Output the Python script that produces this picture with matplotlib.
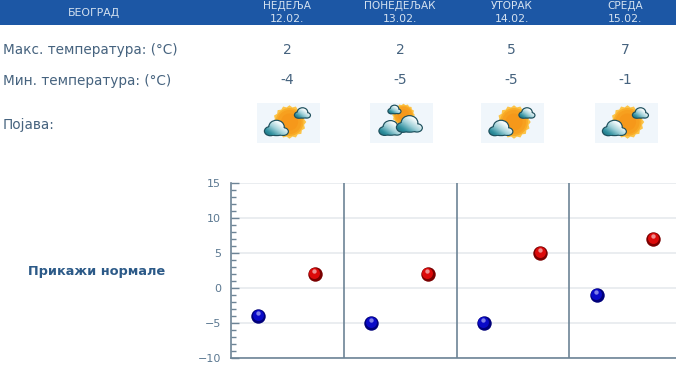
import matplotlib
matplotlib.use("Agg")
import matplotlib.pyplot as plt
from matplotlib.patches import Rectangle, Circle, Ellipse, Polygon, PathPatch
from matplotlib.path import Path
from matplotlib.transforms import offset_copy
from matplotlib.ticker import MultipleLocator
from matplotlib.colors import LinearSegmentedColormap
import numpy as np

city = "БЕОГРАД"
days = ["НЕДЕЉА", "ПОНЕДЕЉАК", "УТОРАК", "СРЕДА"]
dates = ["12.02.", "13.02.", "14.02.", "15.02."]
max_temps = [2, 2, 5, 7]
min_temps = [-4, -5, -5, -1]
row_labels = ["Макс. температура: (°C)", "Мин. температура: (°C)", "Појава:"]
icon_kinds = ["sun", "cloud", "sun", "sun"]
norm_label = "Прикажи нормале"

W, H = 676, 380
plt.rcParams["font.family"] = ["DejaVu Sans"]
fig = plt.figure(figsize=(W / 100, H / 100), dpi=100, facecolor="white")

bg = fig.add_axes([0, 0, 1, 1])
bg.axis("off")

TXT = "#46637f"
col_x = [287, 400, 511.5, 625]

bg.add_patch(Rectangle((0, 0), W, 25, fc="#1c57a5", ec="none"))
bg.text(94, 13, city, color="#d5e2f0", fontsize=7.8, ha="center", va="center")
for x, d, dt in zip(col_x, days, dates):
    bg.text(x, 6, d, color="#d5e2f0", fontsize=7.6, ha="center", va="center")
    bg.text(x, 19.5, dt, color="#d5e2f0", fontsize=7.8, ha="center", va="center")

for y, lab in zip([50.2, 81, 124.5], row_labels):
    bg.text(3, y, lab, color=TXT, fontsize=9.85, ha="left", va="center")
for x, a, b in zip(col_x, max_temps, min_temps):
    bg.text(x, 49.5, str(a), color=TXT, fontsize=10, ha="center", va="center")
    bg.text(x, 80.5, str(b), color=TXT, fontsize=10, ha="center", va="center")

bg.text(97, 272, norm_label, color="#2c5a88", fontsize=9.3, fontweight="bold",
        ha="center", va="center")

cloud_cm = LinearSegmentedColormap.from_list(
    "cl", ["#12606e", "#2f8f9e", "#9fd0d8", "#f2f9fa", "#ffffff"])
grad = np.linspace(0, 1, 64)[None, :] * 0.55 + np.linspace(1, 0, 64)[:, None] * 0.55


def sun(cx, cy, r):
    ang = np.linspace(0, 2 * np.pi, 33)[:-1]
    rad = np.where(np.arange(32) % 2 == 0, r * 1.08, r * 0.96)
    bg.add_patch(Polygon(np.c_[cx + rad * np.cos(ang), cy + rad * np.sin(ang)],
                         fc="#fcc448", ec="none", zorder=3))
    for k, c in zip((0.9, 0.78, 0.55), ("#f9ac28", "#f7a01f", "#f6981a")):
        bg.add_patch(Circle((cx, cy), r * k, fc=c, ec="none", zorder=3))


def cloud(cx, cy, w, z=4):
    h = w * 0.62
    parts = [(cx - w * .27, cy + h * .22, w * .46, h * .56),
             (cx + w * .0, cy - h * .08, w * .62, h * .84),
             (cx + w * .30, cy + h * .25, w * .38, h * .46),
             (cx, cy + h * .3, w * .7, h * .38)]
    for px, py, pw, ph in parts:
        bg.add_patch(Ellipse((px, py), pw + 2.4, ph + 2.4, fc="#1d4f5c", ec="none", zorder=z))
    paths = [Path.circle((0, 0), 1).transformed(
        matplotlib.transforms.Affine2D().scale(pw / 2, ph / 2).translate(px, py))
        for px, py, pw, ph in parts]
    clip = PathPatch(Path.make_compound_path(*paths), transform=bg.transData)
    ext = (cx - w * .55, cx + w * .55, cy + h * .6, cy - h * .6)
    im = bg.imshow(grad, cmap=cloud_cm, vmin=0, vmax=1, extent=ext, aspect="auto",
                   zorder=z + .1, interpolation="bilinear")
    im.set_clip_path(clip)


for x, kind in zip(col_x, icon_kinds):
    x0 = x - 30.5
    bg.add_patch(Rectangle((x0, 103), 63, 40, fc="#f0f6fb", ec="none", zorder=2))
    if kind == "sun":
        sun(x0 + 33, 122, 15.5)
        cloud(x0 + 46, 113, 15)
        cloud(x0 + 20, 128, 23)
    else:
        sun(x0 + 34, 115, 10.5)
        cloud(x0 + 25, 109.5, 12)
        cloud(x0 + 21, 128, 22)
        cloud(x0 + 40, 124, 25, z=5)

bg.set_xlim(0, W)
bg.set_ylim(H, 0)

# chart
L, T, B = 231, 183, 358
SEC = 112.75
ax = fig.add_axes([L / W, (H - B) / H, (W - L) / W, (B - T) / H])
ax.set_facecolor("none")
ax.set_xlim(0, (W - L) / SEC)
ax.set_ylim(-10, 15)
AX = "#6d8496"
for s in ("top", "right"):
    ax.spines[s].set_visible(False)
for s in ("left", "bottom"):
    ax.spines[s].set_color(AX)
    ax.spines[s].set_linewidth(1.2)

ax.yaxis.set_major_locator(MultipleLocator(5))
ax.yaxis.set_minor_locator(MultipleLocator(1))
ax.tick_params(axis="y", which="major", direction="in", length=6, width=1, color=AX,
               labelcolor="#5b7891", labelsize=8, pad=7)
ax.tick_params(axis="y", which="minor", direction="in", length=3.5, width=1, color=AX)
ax.set_xticks([])
ax.yaxis.grid(True, which="major", color="#e6eaee", lw=1.2, zorder=0)
ax.set_axisbelow(True)
for i in range(1, len(days)):
    ax.axvline(i, color=AX, lw=1.2, zorder=1)

idx = np.arange(len(days))


def balls(xs, ys, dark, mid, light):
    ax.scatter(xs, ys, s=108, c=dark, linewidths=0, zorder=3, clip_on=False)
    t1 = offset_copy(ax.transData, fig=fig, x=-0.3, y=0.7, units="points")
    ax.scatter(xs, ys, s=62, c=mid, linewidths=0, zorder=4, transform=t1, clip_on=False)
    t2 = offset_copy(ax.transData, fig=fig, x=-0.3, y=2.2, units="points")
    ax.scatter(xs, ys, s=10, c=light, linewidths=0, zorder=5, transform=t2, clip_on=False)


balls(idx + .243, min_temps, "#00007a", "#0a0ac8", "#7f7fe8")
balls(idx + .743, max_temps, "#7a0000", "#dc0a0a", "#ee8f8f")

fig.savefig("out.png", dpi=100)
